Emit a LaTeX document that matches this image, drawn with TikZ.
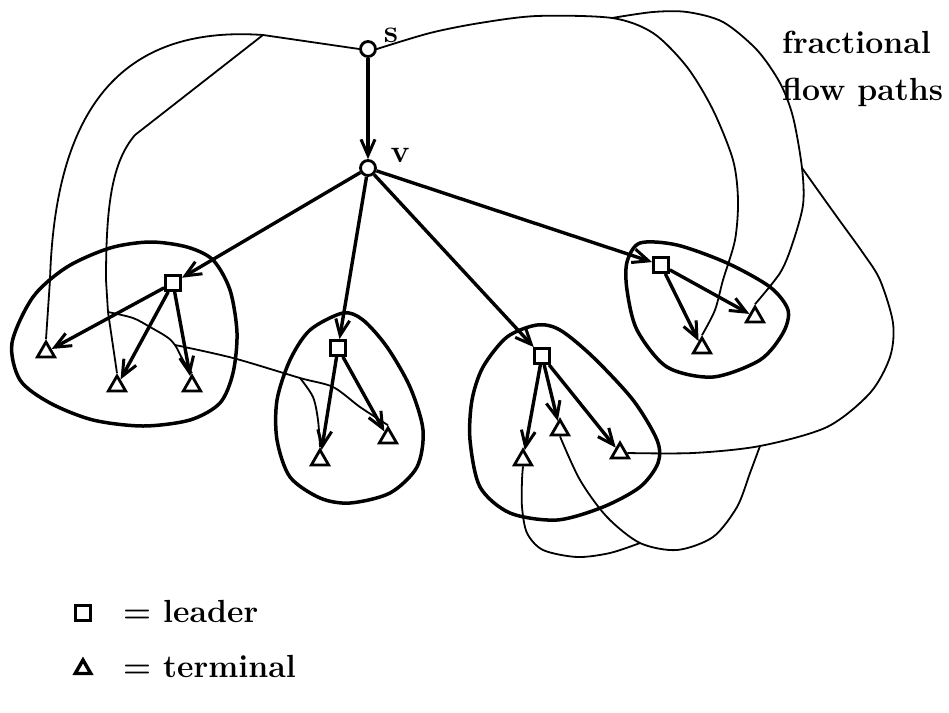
\documentclass[tikz,border=0pt]{standalone}
\usetikzlibrary{arrows.meta,shapes.geometric}
\begin{document}
\begin{tikzpicture}[x=1pt,y=-1pt,
  thickarrow/.style={line width=3.4pt,-{Straight Barb[length=16pt,width=14pt,line width=3pt]}},
  thinpath/.style={line width=1.8pt},
  blob/.style={line width=3.5pt},
  vtx/.style={circle,draw,line width=2.8pt,fill=white,minimum size=15pt,inner sep=0pt},
  leader/.style={rectangle,draw,line width=2.8pt,fill=white,minimum size=15pt,inner sep=0pt},
  terminal/.style={regular polygon,regular polygon sides=3,draw,line width=2.8pt,fill=white,minimum size=20pt,inner sep=0pt},
  lbl/.style={font=\fontsize{32}{36}\selectfont\bfseries,inner sep=0pt}]
\useasboundingbox (0,0) rectangle (949,712);

% clusters
\draw[blob] plot[smooth cycle] coordinates {(12,343) (33,297) (67,267) (110,248) (150,242) (187,247) (213,260) (230,290) (237,333) (233,373) (220,403) (190,420) (143,426) (93,420) (50,403) (20,380)};
\draw[blob] plot[smooth cycle] coordinates {(343,313) (310,330) (290,360) (277,400) (277,440) (290,477) (320,498) (350,503) (390,493) (417,467) (423,430) (410,387) (387,347) (363,320)};
\draw[blob] plot[smooth cycle] coordinates {(537,325) (507,337) (483,367) (472,400) (470,440) (480,487) (510,513) (557,520) (603,507) (640,487) (658,463) (657,440) (633,400) (593,357) (560,330)};
\draw[blob] plot[smooth cycle] coordinates {(640,243) (677,245) (727,263) (770,287) (788,310) (783,333) (760,360) (713,377) (667,367) (637,330) (627,290) (627,262)};

% vertices
\node[vtx] (s) at (368,49) {};
\node[vtx] (v) at (368,168) {};
\node[lbl] (slab) at (391,35) {s};
\node[lbl] (vlab) at (400,155) {v};

\node[leader] (L1) at (173,283) {};
\node[terminal] (T1) at (46,352) {};
\node[terminal] (T2) at (117,386) {};
\node[terminal] (T3) at (192,386) {};

\node[leader] (M) at (338,348) {};
\node[terminal] (T4) at (320,460) {};
\node[terminal] (T5) at (388,438) {};

\node[leader] (RM) at (542,356) {};
\node[terminal] (T10) at (523,460) {};
\node[terminal] (T9) at (560,430) {};
\node[terminal] (T8) at (620,453) {};

\node[leader] (R) at (661,265) {};
\node[terminal] (T6) at (702,348) {};
\node[terminal] (T7) at (755,317) {};

% branch points of flow paths
\coordinate (b1) at (263,35);
\coordinate (c1) at (108,312);
\coordinate (c2) at (175,345);
\coordinate (c3) at (300,378);
\coordinate (e1) at (612,18);
\coordinate (f1) at (802,168);
\coordinate (g1) at (760,446);
\coordinate (h1) at (640,543);

% fractional flow paths
\draw[thinpath] (s.west) -- (b1) .. controls (120,25) and (55,110) .. (50,280) -- (T1.north);
\draw[thinpath] (b1) -- (135,135) .. controls (112,162) and (106,205) .. (106,280) -- (c1) -- (T2.north);
\draw[thinpath] plot[smooth] coordinates {(c1) (133,318) (150,327) (167,337) (c2) (183,360) (T3.north)};
\draw[thinpath] plot[smooth] coordinates {(c2) (233,358) (c3) (333,387) (360,407) (T5.north)};
\draw[thinpath] plot[smooth] coordinates {(c3) (313,397) (318,420) (T4.north)};
\draw[thinpath] plot[smooth] coordinates {(s.east) (430,33) (480,23) (537,16) (e1) (653,33) (687,67) (713,110) (733,160) (738,200) (735,240) (723,280) (715,310) (T6.north)};
\draw[thinpath] plot[smooth] coordinates {(e1) (653,12) (687,12) (723,22) (757,50) (780,83) (793,117) (f1) (803,205) (792,245) (780,273) (T7.north)};
\draw[thinpath] plot[smooth] coordinates {(f1) (837,217) (863,253) (880,280) (893,323) (890,357) (870,393) (827,427) (g1) (693,453) (T8.east)};
\draw[thinpath] plot[smooth] coordinates {(g1) (750,473) (737,507) (713,537) (677,550) (h1) (607,517) (580,480) (T9.south)};
\draw[thinpath] plot[smooth] coordinates {(h1) (610,553) (577,557) (543,550) (527,533) (522,507) (522,480) (T10.south)};

% tree arcs
\draw[thickarrow] (s) -- (v);
\draw[thickarrow] (v) -- (L1);
\draw[thickarrow] (v) -- (M);
\draw[thickarrow] (v) -- (RM);
\draw[thickarrow] (v) -- (R);
\draw[thickarrow] (L1) -- (T1);
\draw[thickarrow] (L1) -- (T2);
\draw[thickarrow] (L1) -- (T3);
\draw[thickarrow] (M) -- (T4);
\draw[thickarrow] (M) -- (T5);
\draw[thickarrow] (RM) -- (T10);
\draw[thickarrow] (RM) -- (T9);
\draw[thickarrow] (RM) -- (T8);
\draw[thickarrow] (R) -- (T6);
\draw[thickarrow] (R) -- (T7);

% caption
\node[lbl,anchor=base west] (cap1) at (782,53) {fractional};
\node[lbl,anchor=base west] (cap2) at (782,100) {flow paths};

% legend
\node[leader] (legL) at (83,613) {};
\node[lbl,anchor=base west] (legLt) at (123,622) {= leader};
\node[terminal,line width=3.4pt,minimum size=18pt] (legT) at (83,669) {};
\node[lbl,anchor=base west] (legTt) at (123,677) {= terminal};
\end{tikzpicture}
\end{document}
